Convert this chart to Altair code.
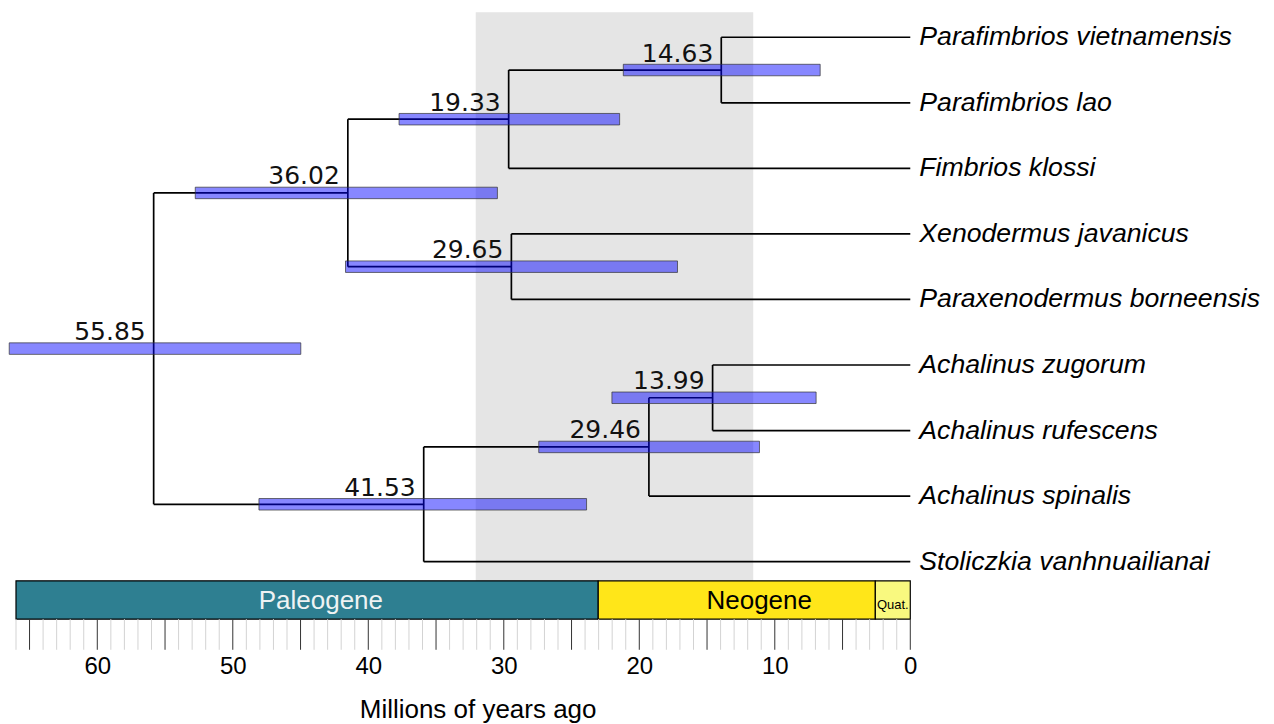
import altair as alt
import pandas as pd

# ---------------- data ----------------
tip_names = [
    "Parafimbrios vietnamensis", "Parafimbrios lao", "Fimbrios klossi",
    "Xenodermus javanicus", "Paraxenodermus borneensis", "Achalinus zugorum",
    "Achalinus rufescens", "Achalinus spinalis", "Stoliczkia vanhnuailianai",
]
tip_parent = ["P", "P", "F", "X", "X", "Az", "Az", "As", "B"]

node_ids = ["P", "F", "X", "A", "Az", "As", "B", "R"]
node_parent = ["F", "A", "A", "R", "As", "B", "R", ""]
node_age = [13.95, 29.64, 29.44, 41.51, 14.59, 19.29, 35.91, 55.84]
node_label = ["14.63", "19.33", "29.65", "36.02", "13.99", "29.46", "41.53", "55.85"]
hpd_old = [21.18, 37.73, 41.68, 52.77, 22.02, 27.42, 48.07, 66.50]
hpd_young = [6.65, 21.45, 17.18, 30.47, 6.95, 11.13, 23.89, 44.98]

period_names = ["Paleogene", "Neogene", "Quat."]
period_start = [66.0, 23.03, 2.58]
period_end = [23.03, 2.58, 0.0]
period_label_age = [43.5, 11.15, 1.29]
period_colors = ["#2E7F91", "#FFE619", "#F9F97F"]
period_text_colors = ["#EEF3F3", "#000000", "#000000"]
period_font_sizes = [26, 26, 13]

band_old, band_young = 32.07, 11.59
axis_values = [60, 50, 40, 30, 20, 10, 0]
minor_ticks = list(range(0, 67))
major_ticks = list(range(0, 66, 5))

# ---------------- tree layout (tip order -> y) ----------------
children = {n: [] for n in node_ids}
for t, p in zip(tip_names, tip_parent):
    children[p].append(t)
for n, p in zip(node_ids, node_parent):
    if p:
        children[p].append(n)
age = dict(zip(node_ids, node_age))
for t in tip_names:
    age[t] = 0.0
ypos = {t: float(i) for i, t in enumerate(tip_names)}


def get_y(n):
    if n in ypos:
        return ypos[n]
    v = sum(get_y(c) for c in children[n]) / len(children[n])
    ypos[n] = v
    return v


for n in node_ids:
    get_y(n)

parent_of = dict(zip(tip_names, tip_parent))
parent_of.update({n: p for n, p in zip(node_ids, node_parent) if p})

segs = []
for c, p in parent_of.items():
    segs.append({"x1": age[p], "x2": age[c], "y1": ypos[c], "y2": ypos[c]})
for n in node_ids:
    ys = [ypos[c] for c in children[n]]
    segs.append({"x1": age[n], "x2": age[n], "y1": min(ys), "y2": max(ys)})
seg_df = pd.DataFrame(segs)

half = 0.0877
node_df = pd.DataFrame({
    "id": node_ids, "age": node_age, "label": node_label,
    "old": hpd_old, "young": hpd_young,
    "y": [ypos[n] for n in node_ids],
})
node_df["y1"] = node_df["y"] - half
node_df["y2"] = node_df["y"] + half

tip_df = pd.DataFrame({"name": tip_names, "x": 0.0, "y": [ypos[t] for t in tip_names]})

band_top, ts_top, ts_bot, tick_bot, ptext_y = -0.381, 8.293, 8.877, 9.3445, 8.72
period_df = pd.DataFrame({
    "name": period_names, "start": period_start, "end": period_end,
    "lab": period_label_age, "col": period_colors, "tcol": period_text_colors,
    "fs": period_font_sizes, "y1": ts_top, "y2": ts_bot, "ty": ptext_y,
})
band_df = pd.DataFrame({"a": [band_old], "b": [band_young], "y1": [band_top], "y2": [ts_top]})
minor_df = pd.DataFrame({"t": [t for t in minor_ticks if t % 5 != 0], "y1": ts_bot, "y2": tick_bot})
major_df = pd.DataFrame({"t": major_ticks, "y1": ts_bot, "y2": tick_bot})

# ---------------- scales ----------------
xscale = alt.Scale(domain=[66.59, 0], nice=False, zero=False)
yscale = alt.Scale(domain=[-0.4421, tick_bot], nice=False, zero=False, reverse=True)
xaxis = alt.Axis(
    values=axis_values, ticks=False, domain=False, grid=False,
    labelFontSize=24, labelFont="Liberation Sans", labelColor="black",
    labelPadding=5, labelFlush=False,
    title="Millions of years ago", titleFontSize=26, titleFont="Liberation Sans",
    titleFontWeight="normal", titleColor="black", titleX=470, titleY=68,
    titleBaseline="alphabetic", titleAlign="center",
)


def X(f):
    return alt.X(f, type="quantitative", scale=xscale, axis=xaxis)


def Y(f):
    return alt.Y(f, type="quantitative", scale=yscale, axis=None)


band = alt.Chart(band_df).mark_rect(color="#E5E5E5").encode(
    x=X("a"), x2="b", y=Y("y1"), y2="y2")

edges = alt.Chart(seg_df).mark_rule(color="black", strokeWidth=1.7).encode(
    x=X("x1"), x2="x2", y=Y("y1"), y2="y2")

bars = alt.Chart(node_df).mark_rect(
    fill="#0000FF", fillOpacity=0.47, stroke="#333333", strokeOpacity=0.7, strokeWidth=1
).encode(x=X("old"), x2="young", y=Y("y1"), y2="y2")

nlabels = alt.Chart(node_df).mark_text(
    align="right", baseline="alphabetic", dx=-8, dy=-8.5,
    font="DejaVu Sans", fontSize=25, color="#111111"
).encode(x=X("age"), y=Y("y"), text="label:N")

tlabels = alt.Chart(tip_df).mark_text(
    align="left", baseline="middle", dx=9, font="Liberation Sans",
    fontStyle="italic", fontSize=26.7, color="black"
).encode(x=X("x"), y=Y("y"), text="name:N")

periods = alt.Chart(period_df).mark_rect(stroke="black", strokeWidth=1.2).encode(
    x=X("start"), x2="end", y=Y("y1"), y2="y2",
    fill=alt.Fill("col:N", scale=None))

ptext = alt.Chart(period_df).mark_text(
    align="center", baseline="alphabetic", font="Liberation Sans"
).encode(
    x=X("lab"), y=Y("ty"), text="name:N",
    color=alt.Color("tcol:N", scale=None),
    size=alt.Size("fs:Q", scale=None))

minor = alt.Chart(minor_df).mark_rule(color="#D3D3D3", strokeWidth=1).encode(
    x=X("t"), y=Y("y1"), y2="y2")
major = alt.Chart(major_df).mark_rule(color="#333333", strokeWidth=1).encode(
    x=X("t"), y=Y("y1"), y2="y2")

chart = alt.layer(
    band, edges, bars, nlabels, tlabels, periods, ptext, minor, major
).properties(
    width=903, height=642,
    padding={"left": 0, "top": 0, "right": 5, "bottom": 0},
).configure_view(stroke=None)

chart.save("out.html", embed_options={"renderer": "svg", "actions": False})
